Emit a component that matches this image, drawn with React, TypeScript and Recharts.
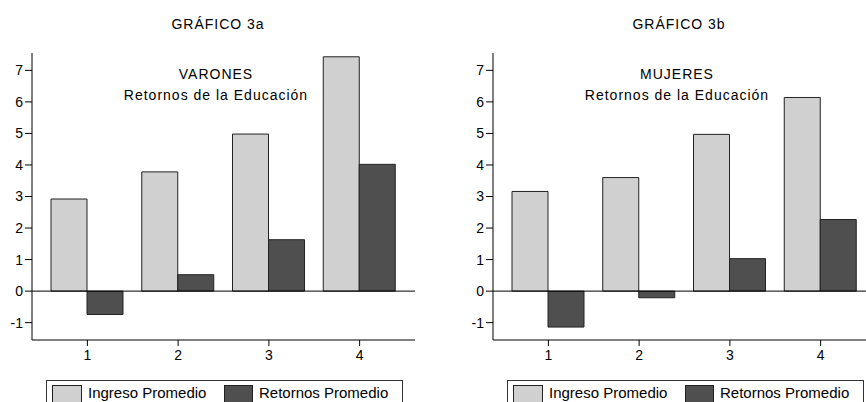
import { BarChart, Bar, XAxis, YAxis, ReferenceLine } from 'recharts'

const categories = ['1', '2', '3', '4']
const ingresoVarones = [2.92, 3.78, 4.98, 7.43]
const retornosVarones = [-0.74, 0.52, 1.63, 4.02]
const ingresoMujeres = [3.16, 3.6, 4.97, 6.14]
const retornosMujeres = [-1.14, -0.21, 1.03, 2.27]
const yTicks = [-1, 0, 1, 2, 3, 4, 5, 6, 7]

const FONT = '"Liberation Sans", Arial, sans-serif'
const LIGHT = '#d0d0d0'
const DARK = '#4f4f4f'
const EDGE = '#222'

function buildRows(ingreso: number[], retornos: number[]) {
  return categories.map((cat, i) => ({ cat, ingreso: ingreso[i], retornos: retornos[i] }))
}

function Panel({ left, title, group, ingreso, retornos }: {
  left: number
  title: string
  group: string
  ingreso: number[]
  retornos: number[]
}) {
  const rows = buildRows(ingreso, retornos)
  return (
    <div style={{ position: 'absolute', left, top: 0, width: 440, height: 402 }}>
      <BarChart
        width={440}
        height={402}
        data={rows}
        barSize={36}
        barGap={0}
        margin={{ top: 53, right: 25, bottom: 42, left: 0 }}
      >
        <XAxis
          dataKey="cat"
          padding={{ left: 10, right: 10 }}
          height={20}
          tickSize={6}
          tickMargin={4}
          tick={{ fontSize: 14, fill: '#000', fontFamily: FONT }}
          axisLine={{ stroke: '#000' }}
          tickLine={{ stroke: '#000' }}
        />
        <XAxis
          xAxisId="top"
          dataKey="cat"
          orientation="top"
          height={0}
          tick={false}
          tickLine={false}
          axisLine={{ stroke: '#000' }}
        />
        <YAxis
          width={32}
          domain={[-1.55, 7.55]}
          ticks={yTicks}
          allowDataOverflow
          tickSize={7}
          tickMargin={2}
          tick={{ fontSize: 14, fill: '#000', fontFamily: FONT }}
          axisLine={{ stroke: '#000' }}
          tickLine={{ stroke: '#000' }}
        />
        <YAxis
          yAxisId="right"
          orientation="right"
          width={0}
          domain={[-1.55, 7.55]}
          tick={false}
          tickLine={false}
          axisLine={{ stroke: '#555', strokeWidth: 2 }}
        />
        <Bar dataKey="ingreso" fill={LIGHT} stroke={EDGE} strokeWidth={1} isAnimationActive={false} />
        <Bar dataKey="retornos" fill={DARK} stroke={EDGE} strokeWidth={1} isAnimationActive={false} />
        <ReferenceLine y={0} stroke="#000" strokeWidth={1} />
      </BarChart>
      <svg
        width={440}
        height={402}
        style={{ position: 'absolute', left: 0, top: 0, pointerEvents: 'none' }}
        fontFamily={FONT}
      >
        <text x={218} y={29} textAnchor="middle" fontSize={14} letterSpacing={1} fill="#000">
          {title}
        </text>
        <text x={216} y={79} textAnchor="middle" fontSize={14} letterSpacing={1} fill="#000">
          {group}
        </text>
        <text x={216} y={100} textAnchor="middle" fontSize={14} letterSpacing={1} fill="#000">
          Retornos de la Educación
        </text>
        <rect x={46.5} y={380.5} width={356} height={40} fill="#fff" stroke="#333" />
        <rect x={52.5} y={385.5} width={29} height={30} fill={LIGHT} stroke={EDGE} />
        <text x={88} y={397.5} fontSize={15} fill="#000">Ingreso Promedio</text>
        <rect x={224.5} y={385.5} width={28} height={30} fill={DARK} stroke={EDGE} />
        <text x={259} y={397.5} fontSize={15} fill="#000">Retornos Promedio</text>
      </svg>
    </div>
  )
}

export default function App() {
  return (
    <div
      style={{
        position: 'absolute',
        left: 0,
        top: 0,
        width: 866,
        height: 402,
        overflow: 'hidden',
        background: '#fff',
        fontFamily: FONT,
      }}
    >
      <Panel left={0} title="GRÁFICO 3a" group="VARONES" ingreso={ingresoVarones} retornos={retornosVarones} />
      <Panel left={461} title="GRÁFICO 3b" group="MUJERES" ingreso={ingresoMujeres} retornos={retornosMujeres} />
    </div>
  )
}
